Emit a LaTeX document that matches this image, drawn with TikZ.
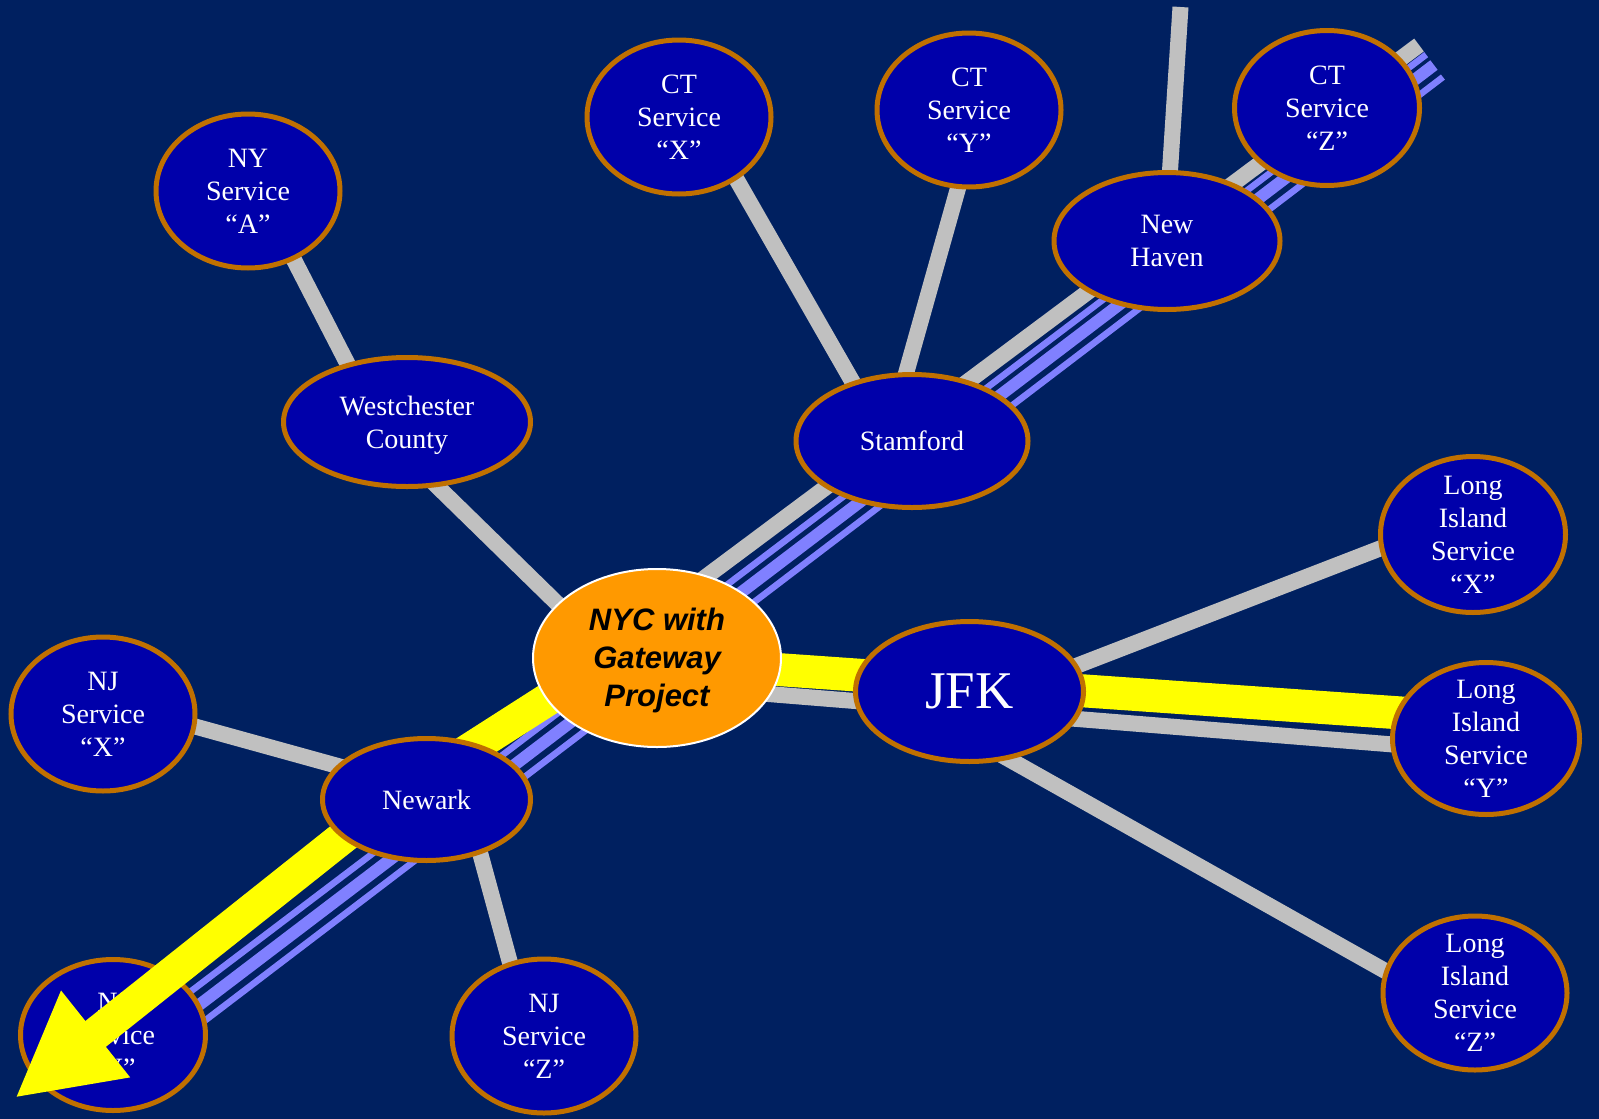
\documentclass[tikz,border=0pt]{standalone}
\usepackage{fontspec}
\setmainfont{Liberation Serif}
\newfontfamily\nycfont{Liberation Sans}
\usetikzlibrary{shapes.geometric,arrows.meta}
\definecolor{bgc}{RGB}{0,32,96}
\definecolor{nodec}{RGB}{0,0,170}
\definecolor{ringc}{RGB}{192,112,0}
\definecolor{grayc}{RGB}{192,192,192}
\definecolor{bluec}{RGB}{128,128,255}
\definecolor{yelc}{RGB}{255,255,0}
\definecolor{orc}{RGB}{255,153,0}
\pgfdeclarelayer{back}
\pgfdeclarelayer{lines}
\pgfdeclarelayer{low}
\pgfdeclarelayer{yel}
\pgfsetlayers{back,lines,low,yel,main}
\tikzset{
  svc/.style={ellipse, draw=ringc, fill=nodec, line width=5pt, inner sep=0pt,
    minimum width=184pt, minimum height=154pt},
  txt/.style={text=white, align=center, inner sep=0pt,
    font=\fontsize{28}{33}\selectfont},
  grayln/.style={draw=grayc, line width=16pt},
  thinb/.style={draw=bluec, line width=6.5pt},
  thickb/.style={draw=bluec, line width=12pt},
  yelln/.style={draw=yelc, line width=33pt, line join=miter},
}
\begin{document}
\begin{tikzpicture}[x=1pt,y=-1pt]
\begin{pgfonlayer}{back}
\fill[bgc] (0,0) rectangle (1599,1119);
\end{pgfonlayer}
\useasboundingbox (0,0) rectangle (1599,1119);

% ---------- nodes ----------
\node[svc] (nya) at (248,191) {};
\node[txt] (nya-t) at (nya) {NY\\Service\\“A”};
\node[svc, minimum width=247pt, minimum height=129pt] (wch) at (407,422) {};
\node[txt] (wch-t) at (wch) {Westchester\\\smash{County}};
\node[svc] (ctx) at (679,117) {};
\node[txt] (ctx-t) at (ctx) {CT\\Service\\“X”};
\node[svc] (cty) at (969,110) {};
\node[txt] (cty-t) at (cty) {CT\\Service\\“Y”};
\node[svc, minimum width=185pt, minimum height=155pt] (ctz) at (1327,108) {};
\node[txt] (ctz-t) at (ctz) {CT\\Service\\“Z”};
\node[svc, minimum width=226pt, minimum height=137pt] (nhv) at (1167,241) {};
\node[txt] (nhv-t) at (nhv) {New\\Haven};
\node[svc, minimum width=232pt, minimum height=133pt] (stam) at (912,441) {};
\node[txt] (stam-t) at (stam) {Stamford};
\node[ellipse, draw=white, fill=orc, line width=2pt, inner sep=0pt,
      minimum width=248pt, minimum height=178pt] (nyc) at (657,658) {};
\node[align=center, inner sep=0pt, text=black,
      font=\nycfont\bfseries\itshape\fontsize{31}{38}\selectfont] (nyc-t) at (657,660)
      {NYC with\\Gateway\\Project};
\node[svc, minimum width=228pt, minimum height=140pt] (jfk) at (969.5,691.5) {};
\node[txt, font=\fontsize{53}{60}\selectfont] (jfk-t) at (jfk) {JFK};
\node[svc, minimum width=208pt, minimum height=122pt] (nwk) at (426.5,799.5) {};
\node[txt] (nwk-t) at (nwk) {Newark};
\node[svc] (njx) at (103,714) {};
\node[txt] (njx-t) at (njx) {NJ\\Service\\“X”};
\begin{pgfonlayer}{low}
\node[svc, minimum width=185pt, minimum height=151pt] (njy) at (113,1035) {};
\node[txt] (njy-t) at (njy) {NJ\\Service\\“Y”};
\end{pgfonlayer}
\node[svc] (njz) at (544,1036) {};
\node[txt] (njz-t) at (njz) {NJ\\Service\\“Z”};
\node[svc, minimum width=185pt, minimum height=156pt] (lix) at (1473,534.5) {};
\node[txt] (lix-t) at (lix) {Long\\Island\\Service\\“X”};
\node[svc, minimum width=187pt, minimum height=152pt] (liy) at (1486,738.5) {};
\node[txt] (liy-t) at (liy) {Long\\Island\\Service\\“Y”};
\node[svc] (liz) at (1475,993) {};
\node[txt] (liz-t) at (liz) {Long\\Island\\Service\\“Z”};

\coordinate (topend) at (1180.5,7);
\coordinate (trunkend) at (1419,45);
\coordinate (arrowtip) at (15,1098);

% ---------- connectors ----------
\begin{pgfonlayer}{lines}
\draw[grayln] ([shift={(10.5,0)}]nya.center) -- ([shift={(-29.5,0)}]wch.center);
\draw[grayln] ([shift={(-35.6,0)}]wch.center) -- ([shift={(-44,0)}]nyc.center);
\draw[grayln] ([shift={(21.8,0)}]ctx.center) -- ([shift={(-25.6,0)}]stam.center);
\draw[grayln] ([shift={(11,0)}]cty.center) -- ([shift={(-25,0)}]stam.center);
\draw[grayln] (topend) -- ([shift={(-1.5,0)}]nhv.center);
\draw[grayln] ([shift={(0,-13)}]njx.center) -- ([shift={(0,-9)}]nwk.center);
\draw[grayln] ([shift={(39,0)}]nwk.center) -- ([shift={(-14,0)}]njz.center);
\draw[grayln] ([shift={(0,15.7)}]jfk.center) -- ([shift={(0,-22)}]lix.center);
\draw[grayln] ([shift={(0,45.5)}]jfk.center) -- ([shift={(0,28.5)}]liz.center);
\draw[grayln] ([shift={(0,27)}]nyc.center) -- ([shift={(0,13.5)}]liy.center);
% trunk
\draw[grayln] ([shift={(0,-16)}]njy.center) -- (trunkend);
\draw[thinb] ([shift={(14.95,4.04)}]njy.center) -- ([shift={(7.17,9.62)}]trunkend);
\draw[thickb] ([shift={(24.51,16.87)}]njy.center) -- ([shift={(14.95,20.04)}]trunkend);
\draw[thinb] ([shift={(34.07,29.70)}]njy.center) -- ([shift={(23.91,32.07)}]trunkend);
\end{pgfonlayer}

\begin{pgfonlayer}{yel}
\draw[yelln, -{Triangle[length=103pt,width=103pt]}]
  ([shift={(0,-19.6)}]liy.center) -- ([shift={(-44.5,0)}]nyc.center)
  -- ([shift={(-40.5,3.5)}]nwk.center) -- (arrowtip);
\end{pgfonlayer}
\end{tikzpicture}
\end{document}
